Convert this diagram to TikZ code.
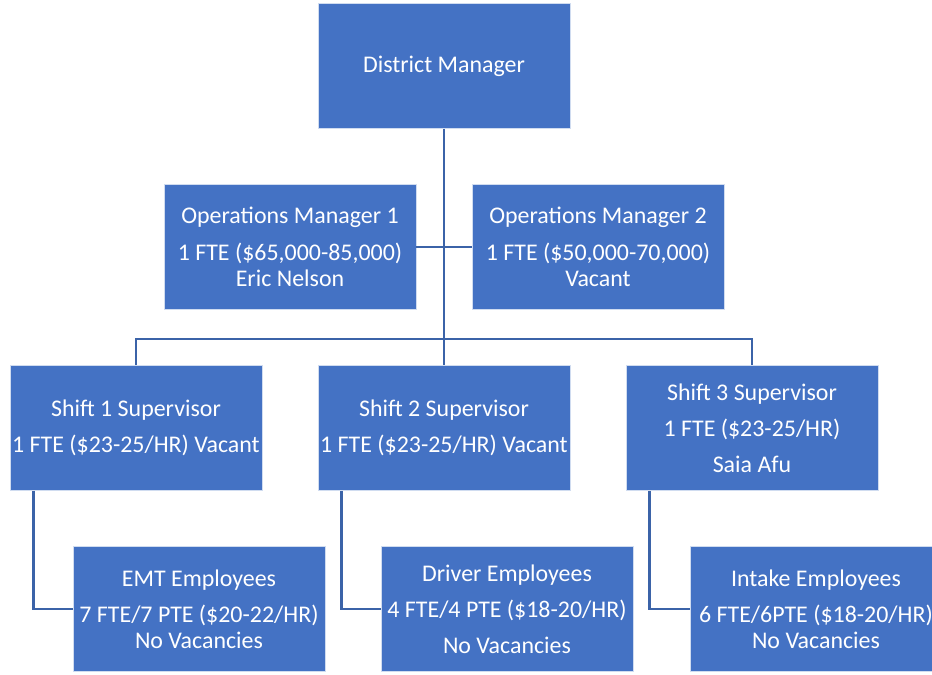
\documentclass[tikz,border=0pt]{standalone}
\usepackage{fontspec}
\setmainfont{Carlito}
\definecolor{boxblue}{HTML}{4472C4}
\definecolor{linkblue}{HTML}{3B63A8}
\begin{document}
\begin{tikzpicture}[x=1bp,y=-1bp,
  orgbox/.style={fill=boxblue, draw=white!75!boxblue, line width=0.6bp, text=white,
    minimum width=252bp, minimum height=125bp, inner sep=0pt, align=center,
    font=\fontsize{24}{26}\selectfont},
  link/.style={draw=linkblue, line width=2.5bp}]
\useasboundingbox (0,0) rectangle (932,675);
\clip (0,0) rectangle (932,675);
\node[orgbox] (dm) at (444,66) {District Manager};
\node[orgbox] (o1) at (290,247) {Operations Manager 1\\[11bp]1 FTE (\$65,000-85,000)\\Eric Nelson};
\node[orgbox] (o2) at (598,247) {Operations Manager 2\\[11bp]1 FTE (\$50,000-70,000)\\Vacant};
\node[orgbox] (s1) at (136,428) {Shift 1 Supervisor\\[10bp]1 FTE (\$23-25/HR) Vacant};
\node[orgbox] (s2) at (444,428) {Shift 2 Supervisor\\[10bp]1 FTE (\$23-25/HR) Vacant};
\node[orgbox] (s3) at (752,428) {Shift 3 Supervisor\\[10bp]1 FTE (\$23-25/HR)\\[10bp]Saia Afu};
\node[orgbox] (emt) at (199,609) {EMT Employees\\[10bp]7 FTE/7 PTE (\$20-22/HR)\\No Vacancies};
\node[orgbox] (drv) at (507,609) {Driver Employees\\[10bp]4 FTE/4 PTE (\$18-20/HR)\\[10bp]No Vacancies};
\node[orgbox] (itk) at (816,609) {Intake Employees\\[10bp]6 FTE/6PTE (\$18-20/HR)\\No Vacancies};
\draw[link] (dm.south) -- (s2.north);
\draw[link] (o1.east) -- (o2.west);
\draw[link] (s1.north) -- ++(0,-26) -| (s3.north);
\draw[link] ([xshift=24bp]s1.south west) |- (emt.west);
\draw[link] ([xshift=24bp]s2.south west) |- (drv.west);
\draw[link] ([xshift=24bp]s3.south west) |- (itk.west);
\end{tikzpicture}
\end{document}
